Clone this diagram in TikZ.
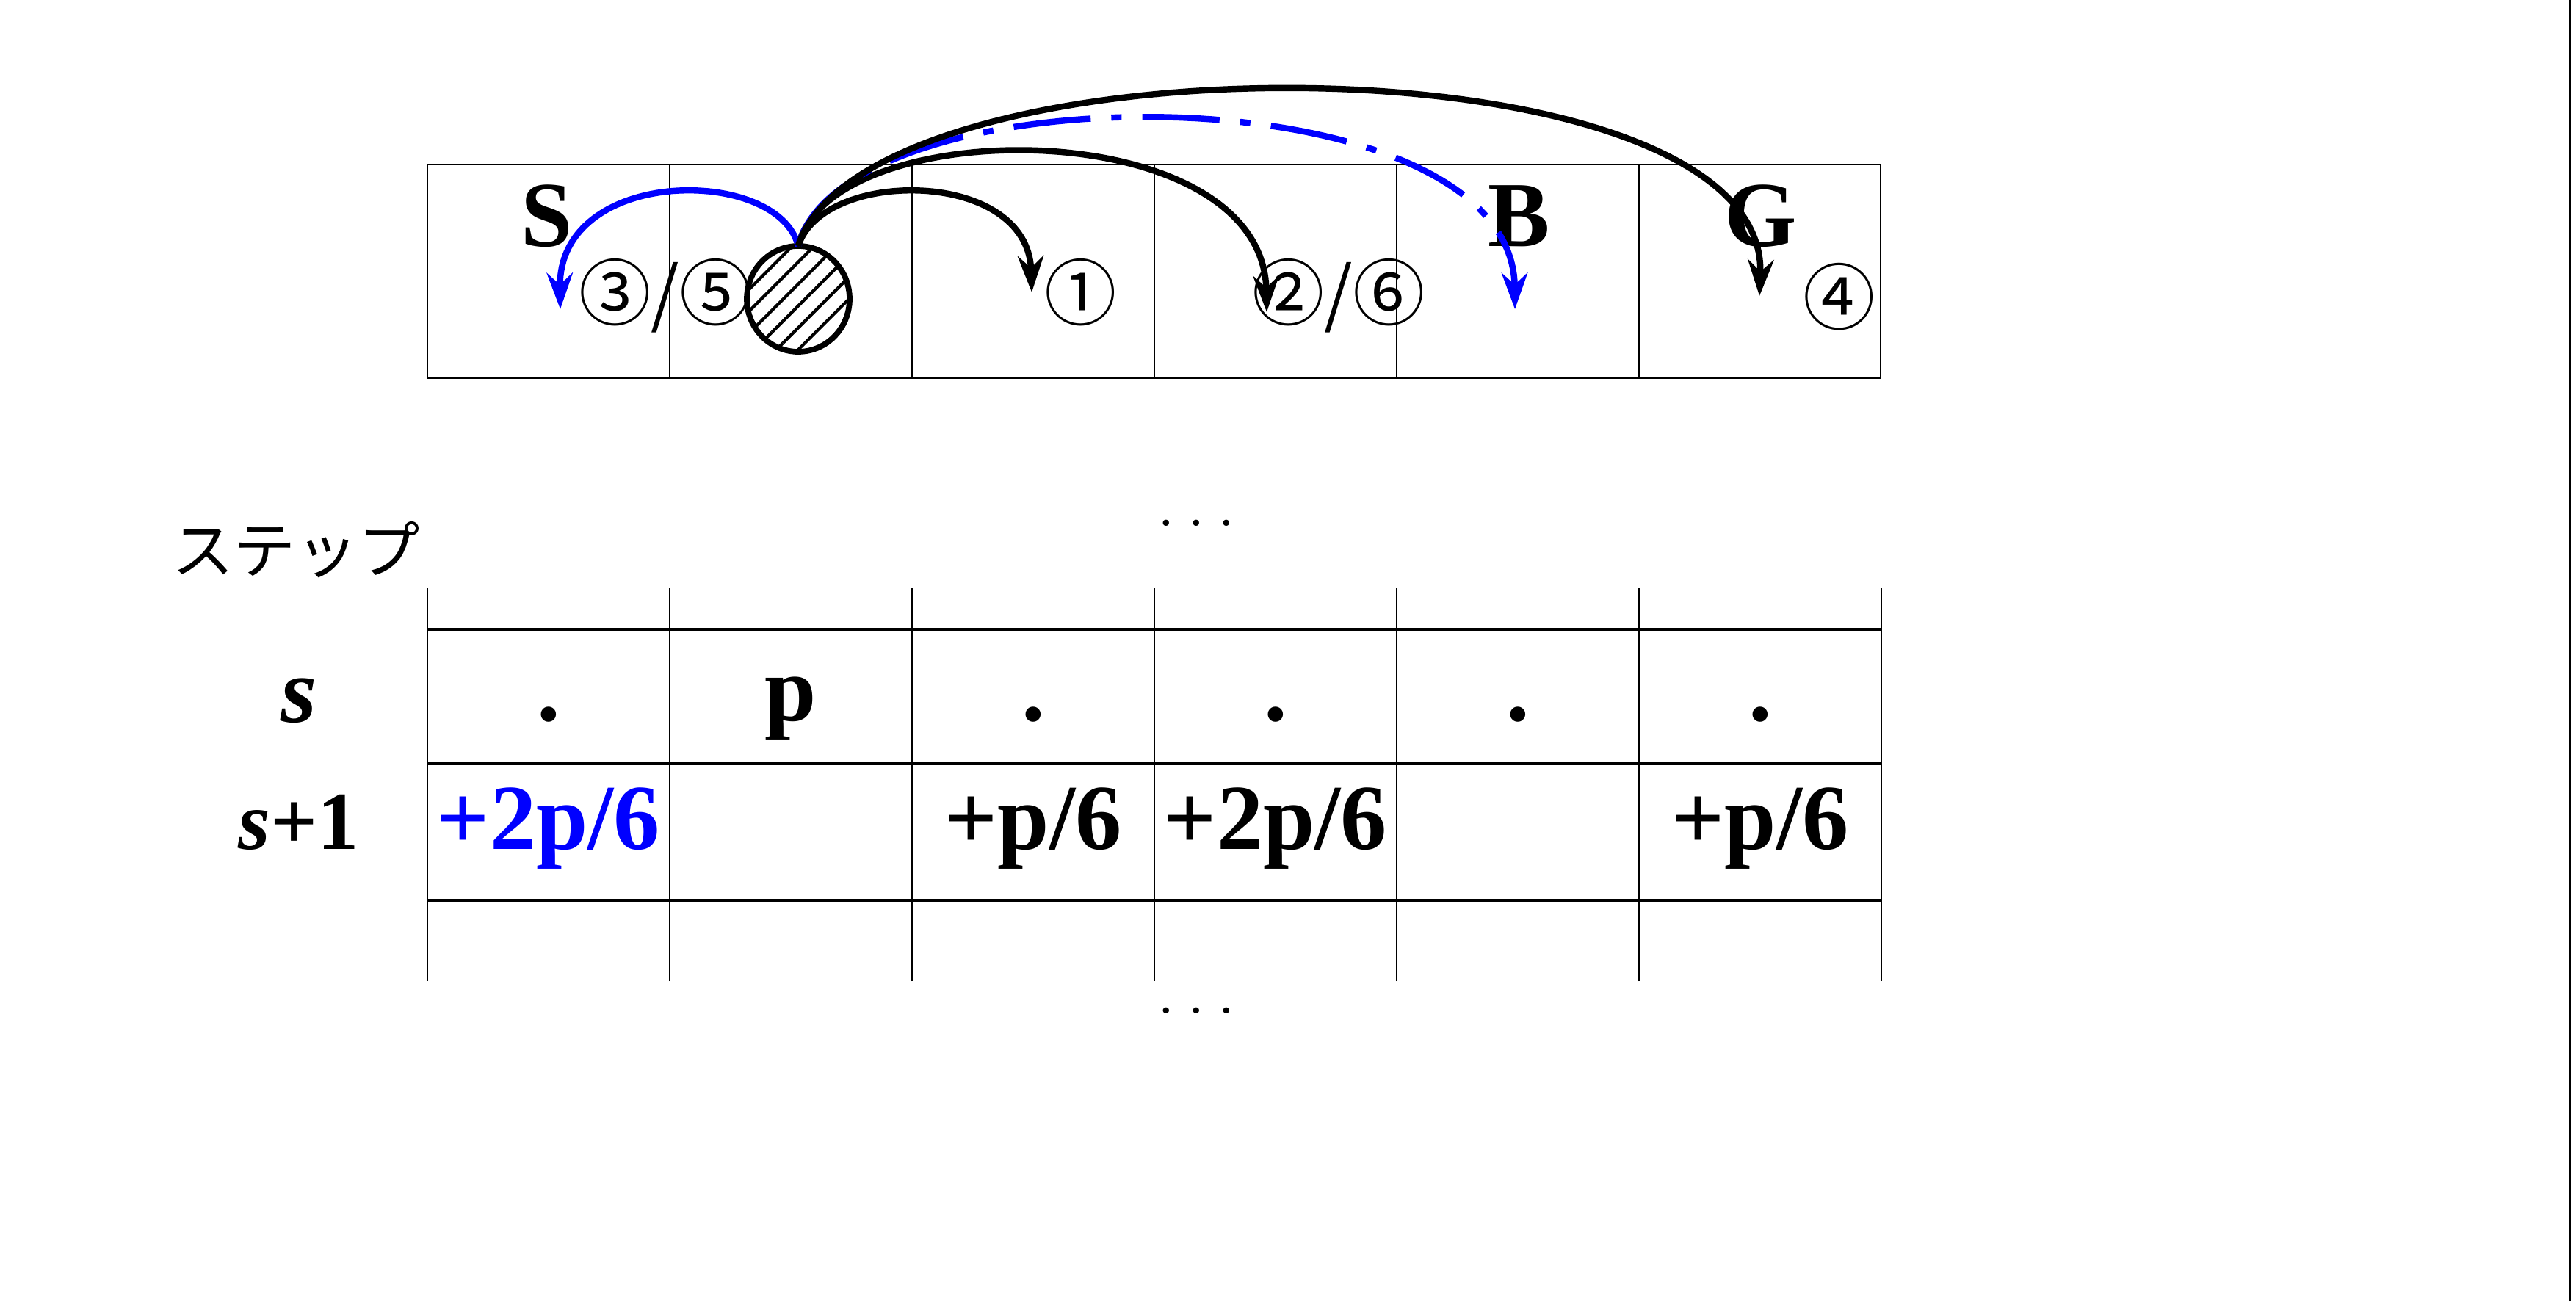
\documentclass[tikz,border=0pt]{standalone}
\usepackage{fontspec}
\setmainfont{Liberation Serif}
\newfontfamily\jpfont{Noto Sans CJK JP}
\usetikzlibrary{arrows.meta,patterns.meta}
\begin{document}
\begin{tikzpicture}[thick]

    \tikzset{cellbox/.style={%
      anchor=base,%
      font=\fontsize{36}{40}\selectfont\bfseries}%
    };
    \tikzset{numlabel/.style={%
      anchor=base,%
      font=\fontsize{28}{32}\selectfont\jpfont}%
    };
    \tikzset{hop/.style={%
      line width=2.4pt,%
      -{Stealth[length=14pt,width=10pt]}}%
    };

    \useasboundingbox (0,0) rectangle (35.08,17.72);
    \draw[thin] (35.0,0) -- (35.0,17.72);

    %%%%%%%%%%%%%
    % top board %
    %%%%%%%%%%%%%
    \draw (5.82,12.57) rectangle (25.61,15.48);
    \foreach \i in {1,...,5}
      \draw[thin] (5.82+3.3*\i,12.57) -- (5.82+3.3*\i,15.48);

    \node[cellbox] (start) at (7.45,14.36) {S};
    \node[cellbox] (bomb) at (20.69,14.36) {B};
    \node[cellbox] (goal) at (23.98,14.36) {G};

    \node[numlabel] (nthree) at (9.06,13.36) {③/⑤};
    \node[numlabel] (none) at (14.72,13.36) {①};
    \node[numlabel] (ntwo) at (18.23,13.36) {②/⑥};
    \node[numlabel] (nfour) at (25.05,13.30) {④};

    \draw[line width=2.2pt, pattern={Lines[angle=45,distance=6pt,line width=1.2pt]}]
      (10.87,13.65) ellipse (0.7 and 0.72);
    \coordinate (piece) at (10.87,14.37);

    \coordinate (tback) at (7.63,13.51);
    \coordinate (tone) at (14.05,13.74);
    \coordinate (ttwo) at (17.25,13.47);
    \coordinate (tbomb) at (20.63,13.51);
    \coordinate (tfour) at (23.96,13.69);

    \draw[hop, blue] (piece) .. controls (10.6,15.46) and (7.6,15.46) .. (tback);
    \draw[hop] (piece) .. controls (11.2,15.43) and (14.0,15.43) .. (tone);
    \draw[hop] (piece) .. controls (11.3,16.2) and (17.2,16.2) .. (ttwo);
    \draw[hop, blue, dash pattern=on 30pt off 8pt on 4pt off 8pt]
      (piece) .. controls (11.5,16.8) and (20.6,16.8) .. (tbomb);
    \draw[hop] (piece) .. controls (11.8,17.3) and (24.1,17.3) .. (tfour);

    %%%%%%%%%%%%%%%
    % step table %
    %%%%%%%%%%%%%%%
    \node[font=\fontsize{24}{28}\selectfont\jpfont] (steplbl) at (4.03,10.23) {ステップ};
    \node[font=\fontsize{20}{24}\selectfont] (dotstop) at (16.29,10.6) {. . .};
    \node[font=\fontsize{20}{24}\selectfont] (dotsbot) at (16.29,3.96) {. . .};

    \foreach \i in {0,...,6}
      \draw[thin] (5.82+3.3*\i,4.36) -- (5.82+3.3*\i,9.71);
    \foreach \y in {9.15,7.32,5.46}
      \draw[line width=1.2pt] (5.82,\y) -- (25.61,\y);

    \node[cellbox, font=\fontsize{36}{40}\selectfont\bfseries\itshape] (rows) at (4.07,7.88) {s};
    \node[cellbox, font=\fontsize{32}{36}\selectfont\bfseries] (rowsone) at (4.07,6.15) {\textit{s}+1};

    \foreach \t [count=\i] in {.,p,.,.,.,.}
      \node[cellbox] (s\i) at (5.82+3.3*\i-1.65,7.9) {\t};

    \node[cellbox, blue] (sone1) at (7.47,6.15) {+2p/6};
    \node[cellbox] (sone3) at (14.07,6.15) {+p/6};
    \node[cellbox] (sone4) at (17.37,6.15) {+2p/6};
    \node[cellbox] (sone6) at (23.97,6.15) {+p/6};

  \end{tikzpicture}
\end{document}
